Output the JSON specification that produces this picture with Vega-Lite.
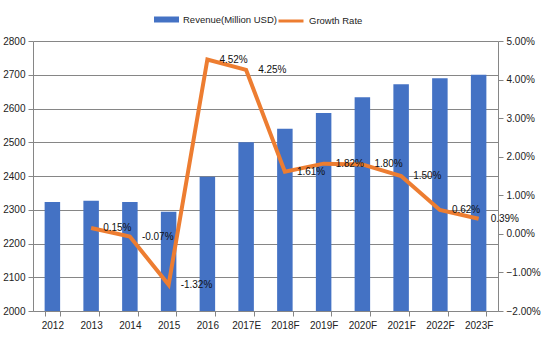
{
  "$schema": "https://vega.github.io/schema/vega-lite/v6.json",
  "autosize": {"type": "none"},
  "width": 465,
  "height": 270,
  "padding": {"left": 33, "top": 41, "right": 47, "bottom": 29},
  "background": "white",
  "config": {
    "view": {"stroke": null},
    "font": "Liberation Sans",
    "axis": {"labelFont": "Liberation Sans", "labelFontSize": 10, "labelColor": "#222222", "domainColor": "#868686", "tickColor": "#868686", "gridColor": "#868686", "titleFontSize": 10, "labelOverlap": false}
  },
  "data": {
    "values": [
      {"year": "2012", "revenue": 2323, "growth": null, "label": ""},
      {"year": "2013", "revenue": 2327, "growth": 0.0015, "label": "0.15%"},
      {"year": "2014", "revenue": 2323, "growth": -0.0007, "label": "-0.07%"},
      {"year": "2015", "revenue": 2294, "growth": -0.0132, "label": "-1.32%"},
      {"year": "2016", "revenue": 2398, "growth": 0.0452, "label": "4.52%"},
      {"year": "2017E", "revenue": 2500, "growth": 0.0425, "label": "4.25%"},
      {"year": "2018F", "revenue": 2540, "growth": 0.0161, "label": "1.61%"},
      {"year": "2019F", "revenue": 2587, "growth": 0.0182, "label": "1.82%"},
      {"year": "2020F", "revenue": 2633, "growth": 0.0180, "label": "1.80%"},
      {"year": "2021F", "revenue": 2672, "growth": 0.0150, "label": "1.50%"},
      {"year": "2022F", "revenue": 2690, "growth": 0.0062, "label": "0.62%"},
      {"year": "2023F", "revenue": 2700, "growth": 0.0039, "label": "0.39%"}
    ]
  },
  "encoding": {
    "x": {
      "field": "year", "type": "ordinal", "sort": null,
      "scale": {"paddingInner": 0.6, "paddingOuter": 0.3},
      "axis": {"title": null, "labelAngle": 0, "tickBand": "extent", "tickSize": 5, "labelPadding": 4, "grid": false}
    }
  },
  "layer": [
    {
      "mark": {"type": "bar", "color": "#4472C4"},
      "encoding": {
        "y": {
          "field": "revenue", "type": "quantitative",
          "scale": {"domain": [2000, 2800], "nice": false, "zero": false},
          "axis": {"title": null, "format": "d", "values": [2000, 2100, 2200, 2300, 2400, 2500, 2600, 2700, 2800], "grid": true, "tickSize": 5, "labelPadding": 3}
        },
        "y2": {"datum": 2000},
        "color": {
          "datum": "Revenue(Million USD)",
          "scale": {"range": ["#4472C4"]},
          "legend": {"title": null, "orient": "none", "legendX": 121, "legendY": -34, "symbolType": "M-1,-0.24H1V0.24H-1Z", "symbolSize": 625, "symbolStrokeWidth": 0, "labelFont": "Liberation Sans", "labelFontSize": 9.5, "labelColor": "#222222", "labelOffset": 4}
        }
      }
    },
    {
      "layer": [
        {
          "mark": {"type": "line", "color": "#ED7D31", "strokeWidth": 4, "strokeJoin": "miter"},
          "encoding": {
            "y": {
              "field": "growth", "type": "quantitative",
              "scale": {"domain": [-0.02, 0.05], "nice": false, "zero": false},
              "axis": {"title": null, "orient": "right", "format": ".2%", "values": [-0.02, -0.01, 0, 0.01, 0.02, 0.03, 0.04, 0.05], "grid": false, "tickSize": 5, "labelPadding": 3}
            },
            "color": {
              "datum": "Growth Rate",
              "scale": {"range": ["#ED7D31"]},
              "legend": {"title": null, "orient": "none", "legendX": 244, "legendY": -34, "symbolType": "M-1,0H1", "symbolSize": 625, "symbolStrokeColor": "#ED7D31", "symbolStrokeWidth": 3, "labelFont": "Liberation Sans", "labelFontSize": 9.5, "labelColor": "#222222", "labelOffset": 4}
            }
          }
        },
        {
          "mark": {"type": "text", "align": "left", "baseline": "middle", "dx": 12, "fontSize": 10, "color": "#111111"},
          "encoding": {
            "y": {
              "field": "growth", "type": "quantitative",
              "axis": {"title": null, "orient": "right", "format": ".2%", "values": [-0.02, -0.01, 0, 0.01, 0.02, 0.03, 0.04, 0.05], "grid": false, "tickSize": 5, "labelPadding": 3}
            },
            "text": {"field": "label"}
          }
        }
      ]
    }
  ],
  "resolve": {"scale": {"y": "independent", "color": "independent"}}
}
